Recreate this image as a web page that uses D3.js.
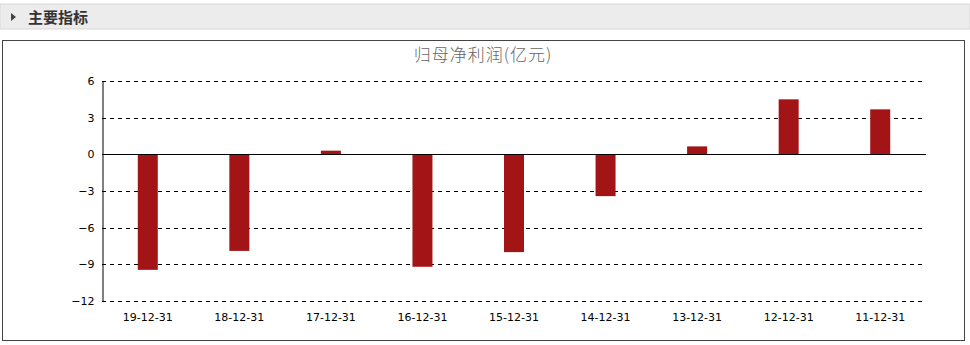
<!DOCTYPE html>
<html>
<head>
<meta charset="utf-8">
<script src="https://cdn.jsdelivr.net/npm/d3@7"></script>
<style>
  body { margin: 0; background: #fff; font-family: "SimSun", "Noto Sans CJK SC", sans-serif; }
</style>
</head>
<body>
<script>
// report dates, newest first as in the source chart
const periods = ["19-12-31", "18-12-31", "17-12-31", "16-12-31", "15-12-31", "14-12-31", "13-12-31", "12-12-31", "11-12-31"];
// 归母净利润, 亿元
const netProfit = [-9.45, -7.9, 0.3, -9.2, -8.0, -3.42, 0.65, 4.5, 3.68];
const yTicks = [6, 3, 0, -3, -6, -9, -12];

const W = 970, H = 345;
const svg = d3.select("body").append("svg").attr("width", W).attr("height", H);

// header strip
svg.append("rect").attr("x", 0).attr("y", 4).attr("width", W).attr("height", 25)
    .attr("fill", "#ececec").attr("stroke", "#d8d8d8");
svg.append("path").attr("d", "M11,13 L16,17 L11,21 Z").attr("fill", "#444");
svg.append("text").attr("x", 28).attr("y", 22.5).text("主要指标")
    .attr("font-size", 15).attr("font-weight", "bold").attr("fill", "#333")
    .attr("font-family", "Noto Sans CJK SC");

// chart frame
svg.append("rect").attr("x", 2.5).attr("y", 40.5).attr("width", 962).attr("height", 300)
    .attr("fill", "#fff").attr("stroke", "#444");

svg.append("text").attr("x", 483).attr("y", 61).attr("text-anchor", "middle")
    .text("归母净利润(亿元)").attr("font-size", 17).attr("fill", "#666")
    .attr("letter-spacing", 1)
    .attr("font-family", "Noto Sans CJK SC").attr("font-weight", 300);

const plotL = 102, plotR = 926, plotT = 81, plotB = 301;

let x = d3.scaleBand().domain(periods).range([plotL, plotR]);
let y = d3.scaleLinear().domain([-12, 6]).range([plotB, plotT]);

// dashed grid
svg.append("g").selectAll("line").data(yTicks.filter(d => d !== 0)).enter().append("line")
    .attr("x1", plotL).attr("x2", plotR)
    .attr("y1", d => Math.round(y(d)) + 0.5).attr("y2", d => Math.round(y(d)) + 0.5)
    .attr("stroke", "#000").attr("stroke-dasharray", "4,4");

// bars
svg.append("g").selectAll("rect").data(netProfit).enter().append("rect")
    .attr("x", (d, i) => x(periods[i]) + x.bandwidth() / 2 - 10)
    .attr("width", 20)
    .attr("y", d => y(Math.max(0, d)))
    .attr("height", d => Math.abs(y(d) - y(0)))
    .attr("fill", "#a31416");

// zero line
svg.append("line").attr("x1", plotL).attr("x2", plotR)
    .attr("y1", Math.round(y(0)) + 0.5).attr("y2", Math.round(y(0)) + 0.5)
    .attr("stroke", "#000");

// y axis
let yAxis = svg.append("g").attr("transform", "translate(" + (plotL + 0.5) + ",0)")
    .call(d3.axisLeft(y).tickValues(yTicks).tickSize(5).tickSizeOuter(0).tickFormat(d3.format("d")));
yAxis.select(".domain").attr("stroke", "#000");
yAxis.selectAll("text").attr("font-size", 11).attr("fill", "#000")
    .attr("font-family", "DejaVu Sans").attr("x", -8);
yAxis.selectAll(".tick line").attr("stroke", "none");

// x labels
let xAxis = svg.append("g").attr("transform", "translate(0," + plotB + ")")
    .call(d3.axisBottom(x).tickSize(0));
xAxis.select(".domain").remove();
xAxis.selectAll("text").attr("font-size", 11).attr("fill", "#000")
    .attr("font-family", "DejaVu Sans").attr("dy", "1.5em");
</script>
</body>
</html>
